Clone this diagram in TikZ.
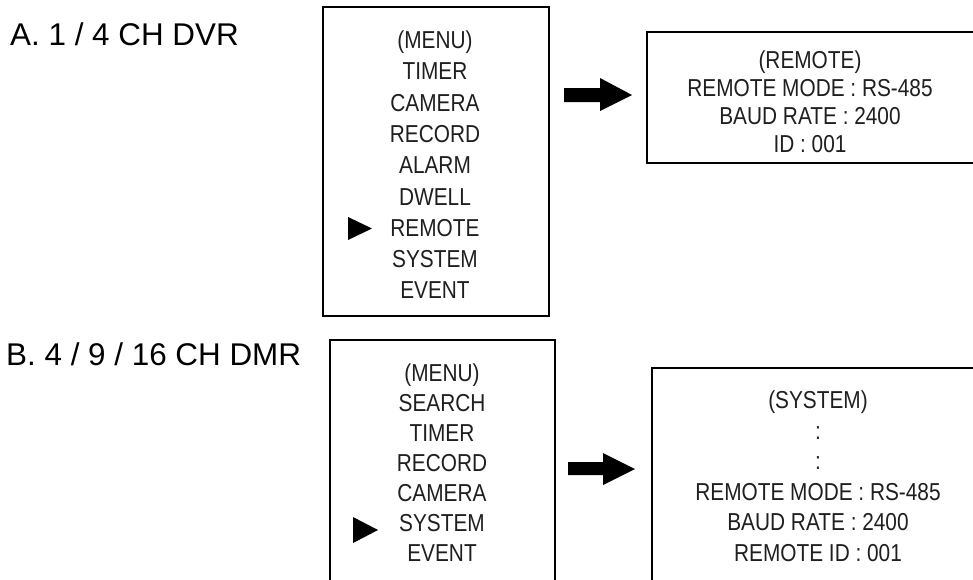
\documentclass[tikz,border=0pt]{standalone}
\usepackage{fontspec}
\setmainfont{Liberation Sans}
\newfontfamily\menufont[FakeStretch=0.85]{Liberation Sans}
\begin{document}
\begin{tikzpicture}[x=1pt,y=-1pt,
  box/.style={draw=black, line width=1.3pt},
  menu/.style={font=\menufont\fontsize{24.5}{28}\selectfont, anchor=base, inner sep=0pt, text=black!88},
  title/.style={font=\fontsize{31.4}{36}\selectfont, anchor=base west, inner sep=0pt},
  blockarrow/.style={fill=black},
  pointer/.style={fill=black}]
\useasboundingbox (0,0) rectangle (973,579);
\clip (0,0) rectangle (973,579);
% titles
\node[title] (titleA) at (10,45) {A. 1 / 4 CH DVR};
\node[title] (titleB) at (6,365) {B. 4 / 9 / 16 CH DMR};
% boxes
\draw[box] (323,7) rectangle (549,316);
\draw[box] (647,32) rectangle (990,163);
\draw[box] (330,340) rectangle (555,600);
\draw[box] (652,368) rectangle (990,600);
% box A menu
\foreach \t [count=\i] in {(MENU),TIMER,CAMERA,RECORD,ALARM,DWELL,REMOTE,SYSTEM,EVENT}
  \node[menu] (am\i) at (435,{48.5+31.3*(\i-1)}) {\t};
% box A remote
\foreach \t [count=\i] in {(REMOTE),REMOTE MODE : RS-485,BAUD RATE : 2400,ID : 001}
  \node[menu] (ar\i) at (810,{68.5+28*(\i-1)}) {\t};
% box B menu
\foreach \t [count=\i] in {(MENU),SEARCH,TIMER,RECORD,CAMERA,SYSTEM,EVENT}
  \node[menu] (bm\i) at (442,{381.5+30*(\i-1)}) {\t};
% box B system
\foreach \t [count=\i] in {(SYSTEM),:,:,REMOTE MODE : RS-485,BAUD RATE : 2400,REMOTE ID : 001}
  \node[menu] (bs\i) at (818,{408.5+30.6*(\i-1)}) {\t};
% pointers
\fill[pointer] (348,217) -- (372,228.5) -- (348,240) -- cycle;
\fill[pointer] (353,517) -- (378,530) -- (353,543) -- cycle;
% block arrows
\fill[blockarrow] (564,88) -- (600,88) -- (600,78) -- (632,95) -- (600,111) -- (600,102) -- (564,102) -- cycle;
\fill[blockarrow] (568,462) -- (603,462) -- (603,453) -- (635,469) -- (603,485) -- (603,475) -- (568,475) -- cycle;
\end{tikzpicture}
\end{document}
